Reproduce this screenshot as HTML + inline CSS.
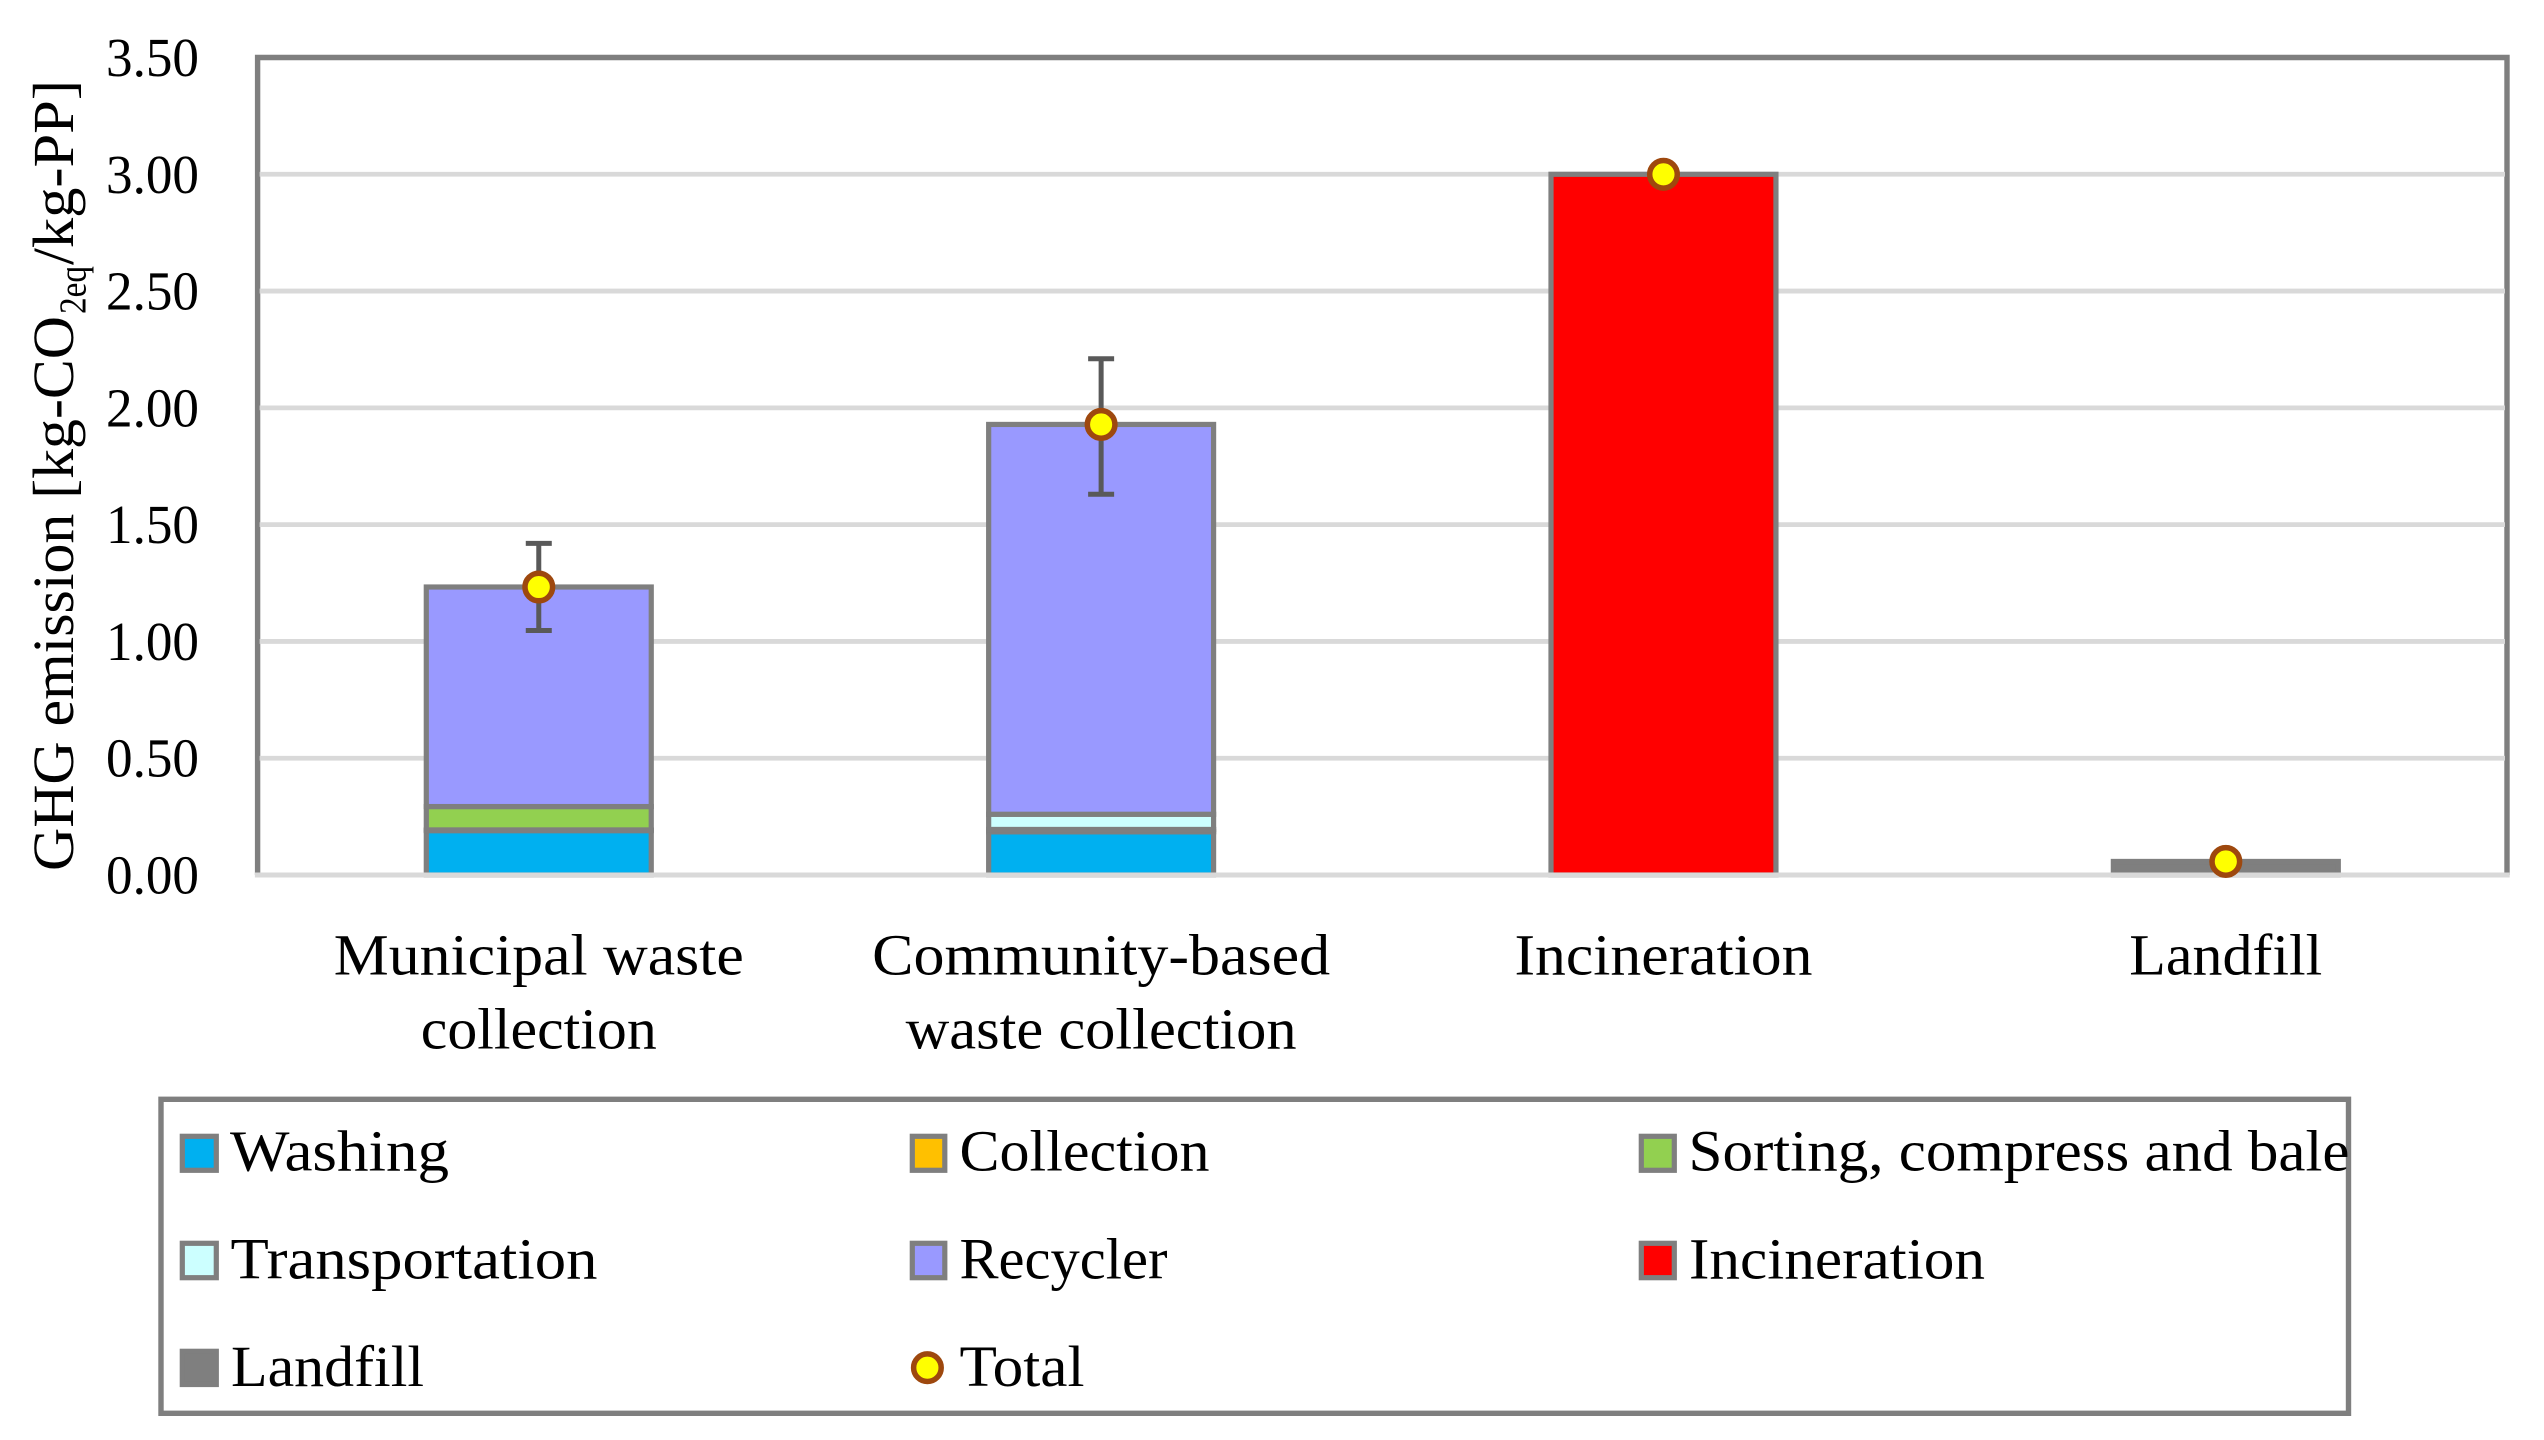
<!DOCTYPE html>
<html lang="en">
<head>
<meta charset="utf-8">
<title>GHG emission by waste treatment</title>
<style>
html,body{margin:0;padding:0;background:#fff;}
svg{display:block;position:absolute;left:0;top:0;}
text{font-family:"Liberation Serif",serif;fill:#000;}
</style>
</head>
<body>
<svg id="chart" xmlns="http://www.w3.org/2000/svg" width="2544" height="1440" viewBox="0 0 2544 1440">
  <rect x="0" y="0" width="2544" height="1440" fill="#ffffff"/>
  <g id="plot-frame"></g>
  <g id="gridlines"></g>
  <g id="bars"></g>
  <g id="baseline"></g>
  <g id="errors"></g>
  <g id="markers"></g>
  <g id="yticks"></g>
  <g id="xlabels"></g>

  <g transform="translate(73,871) rotate(-90)">
    <text x="0" y="0" font-size="58" textLength="555" lengthAdjust="spacingAndGlyphs">GHG emission [kg-CO</text>
    <text x="557" y="12.5" font-size="38" textLength="48" lengthAdjust="spacingAndGlyphs">2eq</text>
    <text x="606" y="0" font-size="58" textLength="185" lengthAdjust="spacingAndGlyphs">/kg-PP]</text>
  </g>

  <g>
    <rect x="161" y="1099.3" width="2187.5" height="314" fill="#ffffff" stroke="#7f7f7f" stroke-width="5.4"/>

    <g>
      <rect x="182.3" y="1136.3" width="34" height="34" fill="#00b0f0" stroke="#7f7f7f" stroke-width="5.2"/>
      <text x="230" y="1170.5" font-size="58" textLength="219" lengthAdjust="spacingAndGlyphs">Washing</text>
    </g>
    <g>
      <rect x="912.3" y="1136.3" width="32.5" height="34" fill="#ffc000" stroke="#7f7f7f" stroke-width="5.2"/>
      <text x="959.5" y="1170.5" font-size="58" textLength="250" lengthAdjust="spacingAndGlyphs">Collection</text>
    </g>
    <g>
      <rect x="1641.3" y="1136.3" width="33" height="34" fill="#92d050" stroke="#7f7f7f" stroke-width="5.2"/>
      <text x="1688.5" y="1170.5" font-size="58" textLength="661" lengthAdjust="spacingAndGlyphs">Sorting, compress and bale</text>
    </g>
    <g>
      <rect x="182.3" y="1243.3" width="34" height="34.4" fill="#ccffff" stroke="#7f7f7f" stroke-width="5.2"/>
      <text x="230.5" y="1278.7" font-size="58" textLength="367" lengthAdjust="spacingAndGlyphs">Transportation</text>
    </g>
    <g>
      <rect x="912.3" y="1243.3" width="32.5" height="34.4" fill="#9999ff" stroke="#7f7f7f" stroke-width="5.2"/>
      <text x="959.5" y="1278.7" font-size="58" textLength="208" lengthAdjust="spacingAndGlyphs">Recycler</text>
    </g>
    <g>
      <rect x="1641.3" y="1243.3" width="33" height="34.4" fill="#ff0000" stroke="#7f7f7f" stroke-width="5.2"/>
      <text x="1689" y="1278.7" font-size="58" textLength="296" lengthAdjust="spacingAndGlyphs">Incineration</text>
    </g>
    <g>
      <rect x="182.3" y="1351.3" width="34" height="33.2" fill="#7f7f7f" stroke="#7f7f7f" stroke-width="5.2"/>
      <text x="231" y="1386" font-size="58" textLength="193" lengthAdjust="spacingAndGlyphs">Landfill</text>
    </g>
    <g>
      <circle cx="927.4" cy="1367.7" r="13.8" fill="#ffff00" stroke="#9e480e" stroke-width="5.5"/>
      <text x="959.5" y="1386" font-size="58" textLength="125" lengthAdjust="spacingAndGlyphs">Total</text>
    </g>
  </g>
</svg>
<script>
const categories = [["Municipal waste", "collection"], ["Community-based", "waste collection"], ["Incineration"], ["Landfill"]];
const seriesNames = ["washing", "collection", "sorting", "transportation", "recycler", "incineration", "landfill"];
const washing = [0.19, 0.185, 0, 0];
const collection = [0.003, 0.01, 0, 0];
const sorting = [0.10, 0, 0, 0];
const transportation = [0, 0.065, 0, 0];
const recycler = [0.94, 1.669, 0, 0];
const incineration = [0, 0, 3.0, 0];
const landfill = [0, 0, 0, 0.058];
const totals = [1.233, 1.929, 3.0, 0.058];
const errorUp = [0.187, 0.281, 0, 0];
const errorDown = [0.186, 0.299, 0, 0];
const yTicks = [0, 0.5, 1, 1.5, 2, 2.5, 3, 3.5];
const yTickLabels = ["0.00", "0.50", "1.00", "1.50", "2.00", "2.50", "3.00", "3.50"];

const seriesValues = [washing, collection, sorting, transportation, recycler, incineration, landfill];
const seriesColors = ["#00b0f0", "#ffc000", "#92d050", "#ccffff", "#9999ff", "#ff0000", "#7f7f7f"];
const labelWidths = [[410, 236], [458, 391], [298], [193]];

const NS = "http://www.w3.org/2000/svg";
const plotLeft = 257.6, plotRight = 2507, yZero = 875, yMax = 3.5, yTop = 57.5;
const GRAY = "#7f7f7f";

function yScale(v) { return yZero - (v / yMax) * (yZero - yTop); }
function bandWidth() { return (plotRight - plotLeft) / categories.length; }
function xCenter(i) { return plotLeft + bandWidth() * (i + 0.5); }
function make(tag, parentId, attrs) {
  const el = document.createElementNS(NS, tag);
  for (const k in attrs) el.setAttribute(k, attrs[k]);
  document.getElementById(parentId).appendChild(el);
  return el;
}

/* plot frame */
const frame = make("path", "plot-frame", {
  d: "M" + plotLeft + " " + yZero + "V" + yTop + "H" + plotRight + "V" + yZero,
  fill: "none", stroke: GRAY, "stroke-width": 5.4, "stroke-linejoin": "miter"
});



/* gridlines and tick labels */
yTicks.forEach(function (t, i) {
  if (t > 0 && t < yMax) {
    const g = make("line", "gridlines", { x1: plotLeft + 2, x2: plotRight - 2, y1: yScale(t), y2: yScale(t), stroke: "#d9d9d9", "stroke-width": 4.8 });
    
    
  }
  const lab = make("text", "yticks", { x: 199, y: yScale(t) + 18.5, "text-anchor": "end", "font-size": 55, textLength: 93, lengthAdjust: "spacingAndGlyphs" });
  
  
  lab.textContent = yTickLabels[i];
});

/* stacked bars */
categories.forEach(function (c, i) {
  const w = bandWidth() / 2.5;
  let cum = 0;
  seriesValues.forEach(function (vals, s) {
    const v = vals[i];
    if (!v) return;
    const top = yScale(cum + v), bottom = yScale(cum);
    const r = make("rect", "bars", {
      x: xCenter(i) - w / 2, y: top, width: w, height: bottom - top,
      fill: seriesColors[s], stroke: GRAY, "stroke-width": 5.2
    });
    
    
    cum += v;
  });
});

/* baseline over the bars */
const axisLine = make("line", "baseline", { x1: plotLeft - 2.7, x2: plotRight + 2.7, y1: yZero, y2: yZero, stroke: "#d9d9d9", "stroke-width": 5 });



/* error bars */
categories.forEach(function (c, i) {
  if (!errorUp[i] && !errorDown[i]) return;
  const x = xCenter(i), capHalf = 13;
  const yHi = yScale(totals[i] + errorUp[i]), yLo = yScale(totals[i] - errorDown[i]);
  const stem = make("line", "errors", { x1: x, x2: x, y1: yHi, y2: yLo, stroke: "#595959", "stroke-width": 5 });
  
  
  const capA = make("line", "errors", { x1: x - capHalf, x2: x + capHalf, y1: yHi, y2: yHi, stroke: "#595959", "stroke-width": 5 });
  
  
  const capB = make("line", "errors", { x1: x - capHalf, x2: x + capHalf, y1: yLo, y2: yLo, stroke: "#595959", "stroke-width": 5 });
  
  
});

/* total markers */
totals.forEach(function (t, i) {
  const m = make("circle", "markers", { cx: xCenter(i), cy: yScale(t), r: 13.8, fill: "#ffff00", stroke: "#9e480e", "stroke-width": 5.5 });
  
  
});

/* category labels */
const lineBaselines = [974.5, 1048.5];
categories.forEach(function (lines, i) {
  lines.forEach(function (line, j) {
    const t = make("text", "xlabels", {
      x: xCenter(i), y: lineBaselines[j], "text-anchor": "middle", "font-size": 58,
      textLength: labelWidths[i][j], lengthAdjust: "spacingAndGlyphs"
    });
    
    
    t.textContent = line;
  });
});
</script>
</body>
</html>
